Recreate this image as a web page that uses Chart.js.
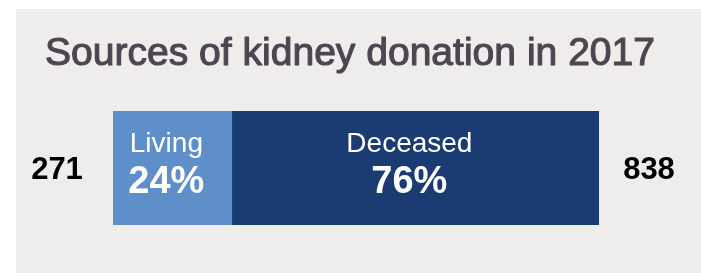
<!DOCTYPE html>
<html>
<head>
<meta charset="utf-8">
<script src="https://cdn.jsdelivr.net/npm/chart.js@4/dist/chart.umd.min.js"></script>
<style>
    html, body { margin: 0; padding: 0; background: #ffffff; }
    canvas { display: block; }
</style>
</head>
<body>
<canvas id="chart" width="701" height="278"></canvas>
<script>
// data
const years = ["2017"];
const sources = ["Living", "Deceased"];
const counts = [271, 838];
const colors = ["#5f8fc9", "#1b3c73"];
const chartTitle = "Sources of kidney donation in 2017";

const total = counts.reduce((a, b) => a + b, 0);

// grey panel, title, labels
const panelPlugin = {
    id: "panel",
    beforeDraw(chart) {
        const ctx = chart.ctx;
        ctx.save();
        ctx.fillStyle = "#eeedeb";
        ctx.fillRect(16, 9, chart.width - 16, 264);

        // title, squeezed to look like a narrow font
        ctx.font = "38px 'Liberation Sans Narrow', 'Liberation Sans', Arial, sans-serif";
        ctx.fillStyle = "#4e4552";
        ctx.strokeStyle = "#4e4552";
        ctx.lineWidth = 1.1;
        ctx.lineJoin = "round";
        ctx.textBaseline = "alphabetic";
        const w = ctx.measureText(chartTitle).width;
        const target = 610;
        ctx.translate(45, 65);
        ctx.scale(target / w, 1);
        ctx.fillText(chartTitle, 0, 0);
        ctx.strokeText(chartTitle, 0, 0);
        ctx.restore();
    },
    afterDatasetsDraw(chart) {
        const ctx = chart.ctx;
        const area = chart.chartArea;
        ctx.save();
        ctx.textAlign = "center";
        ctx.textBaseline = "alphabetic";
        ctx.fillStyle = "#ffffff";
        chart.data.datasets.forEach((ds, i) => {
            const bar = chart.getDatasetMeta(i).data[0];
            const cx = (bar.x + bar.base) / 2 - 6;
            const cy = bar.y;
            ctx.font = "28px 'Liberation Sans', Arial, sans-serif";
            ctx.fillText(ds.label, cx, cy - 16);
            ctx.font = "bold 38px 'Liberation Sans', Arial, sans-serif";
            ctx.fillText(Math.round(ds.data[0] / total * 100) + "%", cx, cy + 25);
        });

        // totals on each side of the bar
        const midY = (area.top + area.bottom) / 2;
        ctx.fillStyle = "#000000";
        ctx.font = "bold 31px 'Liberation Sans', Arial, sans-serif";
        ctx.fillText(String(counts[0]), area.left - 56, midY + 11);
        ctx.fillText(String(counts[1]), area.right + 50, midY + 11);
        ctx.restore();
    }
};

const chartData = {
    labels: years,
    datasets: sources.map((name, i) => ({
        label: name,
        data: [counts[i]],
        backgroundColor: colors[i],
        borderWidth: 0,
        barPercentage: 1,
        categoryPercentage: 1
    }))
};

const chartOptions = {
    indexAxis: "y",
    responsive: false,
    animation: false,
    devicePixelRatio: 1,
    layout: {
        padding: { left: 113, right: 102, top: 111, bottom: 53 }
    },
    plugins: {
        legend: { display: false },
        tooltip: { enabled: false },
        title: { display: false }
    },
    scales: {
        x: { stacked: true, min: 0, max: total, display: false },
        y: { stacked: true, display: false }
    }
};

new Chart("chart", {
    type: "bar",
    data: chartData,
    options: chartOptions,
    plugins: [panelPlugin]
});
</script>
</body>
</html>
